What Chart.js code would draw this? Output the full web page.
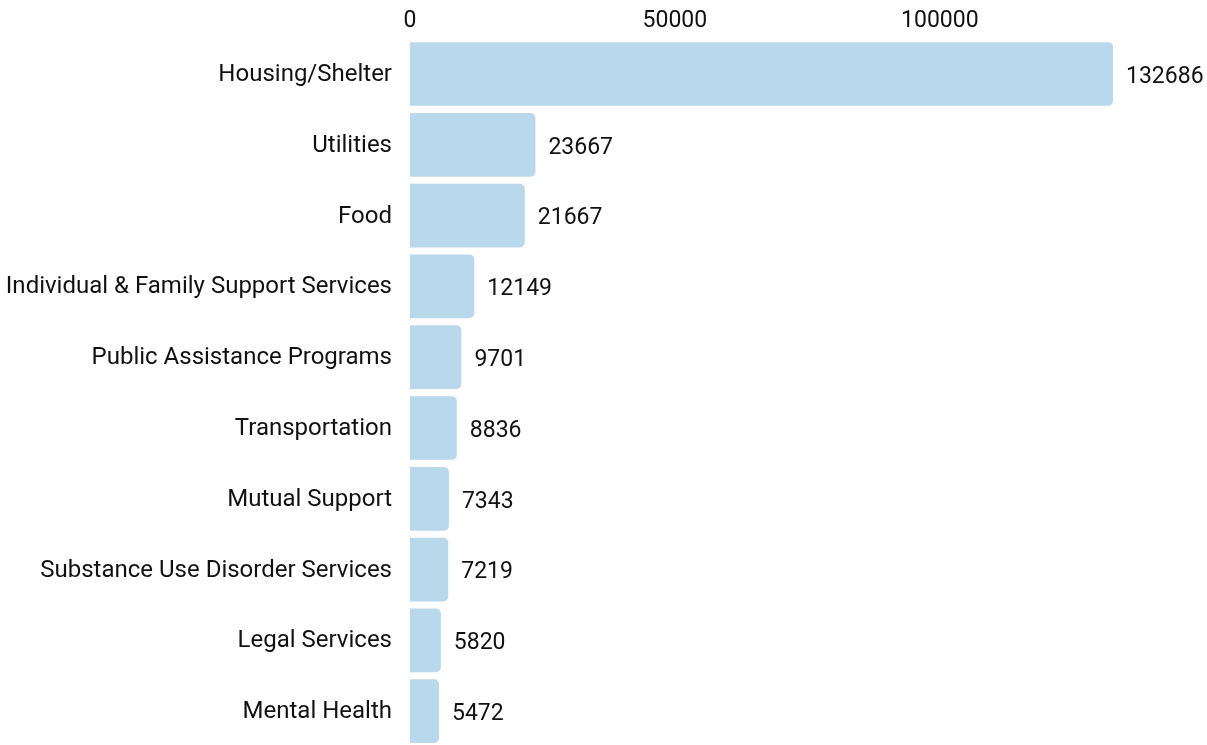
<!DOCTYPE html>
<html>
<head>
<meta charset="utf-8">
<script src="https://cdn.jsdelivr.net/npm/chart.js@4"></script>
<style>
  html, body { margin: 0; padding: 0; background: #fff; overflow: hidden; }
  canvas { display: block; }
</style>
</head>
<body>
<canvas id="needs_chart" width="1207" height="779"></canvas>
<script>
var categories = [
  'Housing/Shelter',
  'Utilities',
  'Food',
  'Individual & Family Support Services',
  'Public Assistance Programs',
  'Transportation',
  'Mutual Support',
  'Substance Use Disorder Services',
  'Legal Services',
  'Mental Health'
];
var request_counts = [132686, 23667, 21667, 12149, 9701, 8836, 7343, 7219, 5820, 5472];
var tick_values = [0, 50000, 100000];

var LABEL_FONT = { family: 'Roboto', size: 24 };
var NUM_FONT = { family: 'Roboto', size: 23 };

// writes each bar's value just past its right end
var valueLabels = {
  id: 'valueLabels',
  afterDatasetsDraw: function(chart) {
    var ctx = chart.ctx;
    var meta = chart.getDatasetMeta(0);
    ctx.save();
    ctx.font = NUM_FONT.size + 'px ' + NUM_FONT.family;
    ctx.fillStyle = '#111';
    ctx.textAlign = 'left';
    ctx.textBaseline = 'middle';
    meta.data.forEach(function(bar, i) {
      ctx.fillText(String(request_counts[i]), bar.x + 13, bar.y + 3);
    });
    ctx.restore();
  }
};

var ctx = document.getElementById('needs_chart').getContext('2d');
var myChart = new Chart(ctx, {
  type: 'bar',
  data: {
    labels: categories,
    datasets: [{
      data: request_counts,
      backgroundColor: 'rgb(186, 216, 235)',
      borderWidth: 0,
      borderRadius: 5,
      barPercentage: 0.9,
      categoryPercentage: 1.0
    }]
  },
  options: {
    indexAxis: 'y',
    responsive: false,
    animation: false,
    layout: { padding: { left: 0, right: 94, top: 3, bottom: 0 } },
    plugins: {
      legend: { display: false },
      tooltip: { enabled: false }
    },
    scales: {
      x: {
        position: 'top',
        min: 0,
        max: Math.max.apply(null, request_counts),
        grid: { display: false, drawTicks: false },
        border: { display: false },
        afterBuildTicks: function(axis) {
          axis.ticks = tick_values.map(function(v) { return { value: v }; });
        },
        ticks: {
          font: NUM_FONT,
          color: '#111',
          padding: 4,
          maxRotation: 0,
          callback: function(value) { return String(value); }
        }
      },
      y: {
        grid: { display: false, drawTicks: false },
        border: { display: false },
        afterFit: function(axis) { axis.width = 410; },
        ticks: {
          font: LABEL_FONT,
          color: '#111',
          padding: 18,
          labelOffset: 1
        }
      }
    }
  },
  plugins: [valueLabels]
});
</script>
</body>
</html>
